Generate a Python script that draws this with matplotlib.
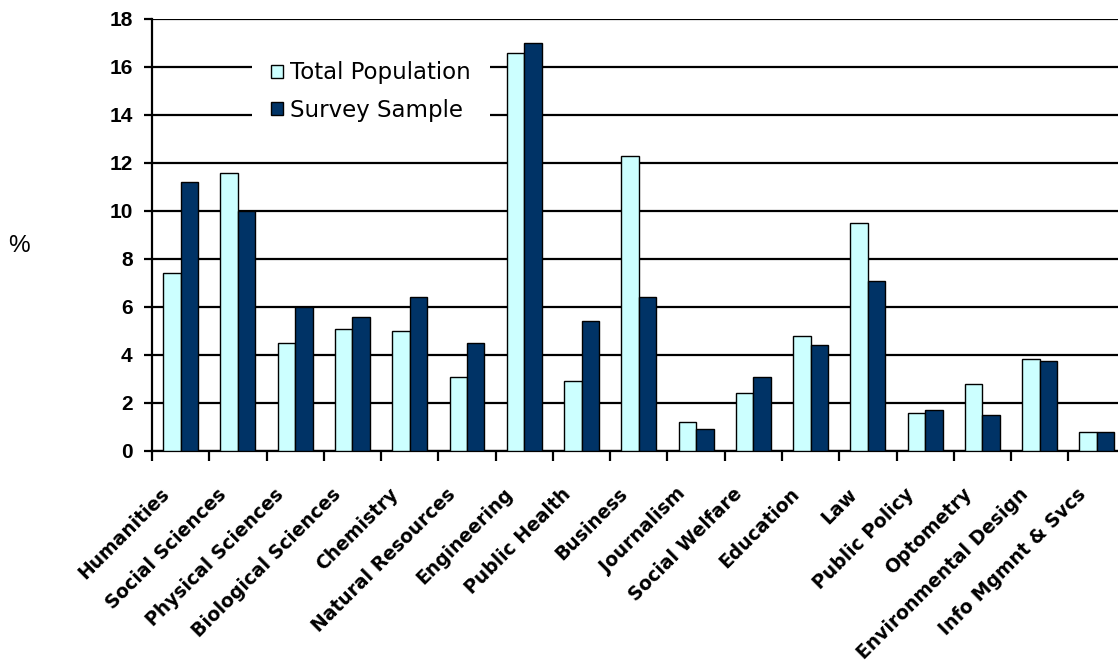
import matplotlib
matplotlib.use("Agg")
import matplotlib.pyplot as plt
import matplotlib.transforms as mtransforms
import numpy as np
from matplotlib.patches import Patch

categories = ["Humanities", "Social Sciences", "Physical Sciences", "Biological Sciences",
              "Chemistry", "Natural Resources", "Engineering", "Public Health", "Business",
              "Journalism", "Social Welfare", "Education", "Law", "Public Policy",
              "Optometry", "Environmental Design", "Info Mgmnt & Svcs"]
total_population = [7.4, 11.6, 4.5, 5.1, 5.0, 3.1, 16.6, 2.9, 12.3, 1.2, 2.4, 4.8, 9.5, 1.6, 2.8, 3.85, 0.8]
survey_sample = [11.2, 10.0, 6.0, 5.6, 6.4, 4.5, 17.0, 5.4, 6.4, 0.9, 3.1, 4.4, 7.1, 1.7, 1.5, 3.75, 0.8]
y_ticks = [0, 2, 4, 6, 8, 10, 12, 14, 16, 18]

W, H = 1118, 669
fig = plt.figure(figsize=(W / 100, H / 100), dpi=100)
left, right, bottom, top = 152, 1125.6, 451, 19
ax = fig.add_axes([left / W, 1 - bottom / H, (right - left) / W, (bottom - top) / H])

x = np.arange(len(categories))
bw = 0.305
ax.bar(x - bw / 2, total_population, width=bw, color="#CCFFFF", edgecolor="black", linewidth=1.0, zorder=3, label="Total Population")
ax.bar(x + bw / 2, survey_sample, width=bw, color="#003366", edgecolor="black", linewidth=1.0, zorder=3, label="Survey Sample")

ax.set_xlim(-0.5, len(categories) - 0.5)
ax.set_ylim(0, 18)
ax.set_yticks(y_ticks)
ax.set_yticklabels([str(v) for v in y_ticks], fontsize=15, fontweight="bold", family="Liberation Sans")
ax.yaxis.grid(True, color="black", linewidth=1.6, zorder=0)
ax.set_axisbelow(True)

ax.set_xticks(x)
ax.set_xticklabels(categories, rotation=45, ha="right", va="center", rotation_mode="anchor",
                   fontsize=13.5, fontweight="bold", family="DejaVu Sans")
ax.tick_params(axis="x", which="major", length=0, pad=29)
offset = mtransforms.ScaledTranslation(-14 / 100, 0, fig.dpi_scale_trans)
for lab in ax.get_xticklabels():
    lab.set_transform(lab.get_transform() + offset)
ax.set_xticks(np.arange(len(categories) + 1) - 0.5, minor=True)
ax.tick_params(axis="x", which="minor", length=7, width=1.6, color="black", direction="out")
ax.tick_params(axis="y", length=6, width=1.6, direction="out", pad=8)

for s in ["top", "right"]:
    ax.spines[s].set_visible(False)
ax.spines["left"].set_linewidth(1.6)
ax.spines["bottom"].set_linewidth(1.6)

fig.text(19 / W, 1 - 246 / H, "%", fontsize=17.5, family="Liberation Sans", ha="center", va="center")

handles = [Patch(facecolor="#CCFFFF", edgecolor="black", linewidth=1.0),
           Patch(facecolor="#003366", edgecolor="black", linewidth=1.0)]
leg = ax.legend(handles, ["Total Population", "Survey Sample"], loc="upper left",
                bbox_to_anchor=(252 / W, 1 - 42 / H), bbox_transform=fig.transFigure,
                frameon=True, fancybox=False, edgecolor="none", facecolor="white", framealpha=1,
                prop={"family": "DejaVu Sans", "size": 16.5}, handlelength=0.5, handleheight=0.5,
                handletextpad=0.3, labelspacing=0.62, borderpad=0.85, borderaxespad=0)
leg.set_zorder(5)

fig.savefig("out.png", dpi=100)
